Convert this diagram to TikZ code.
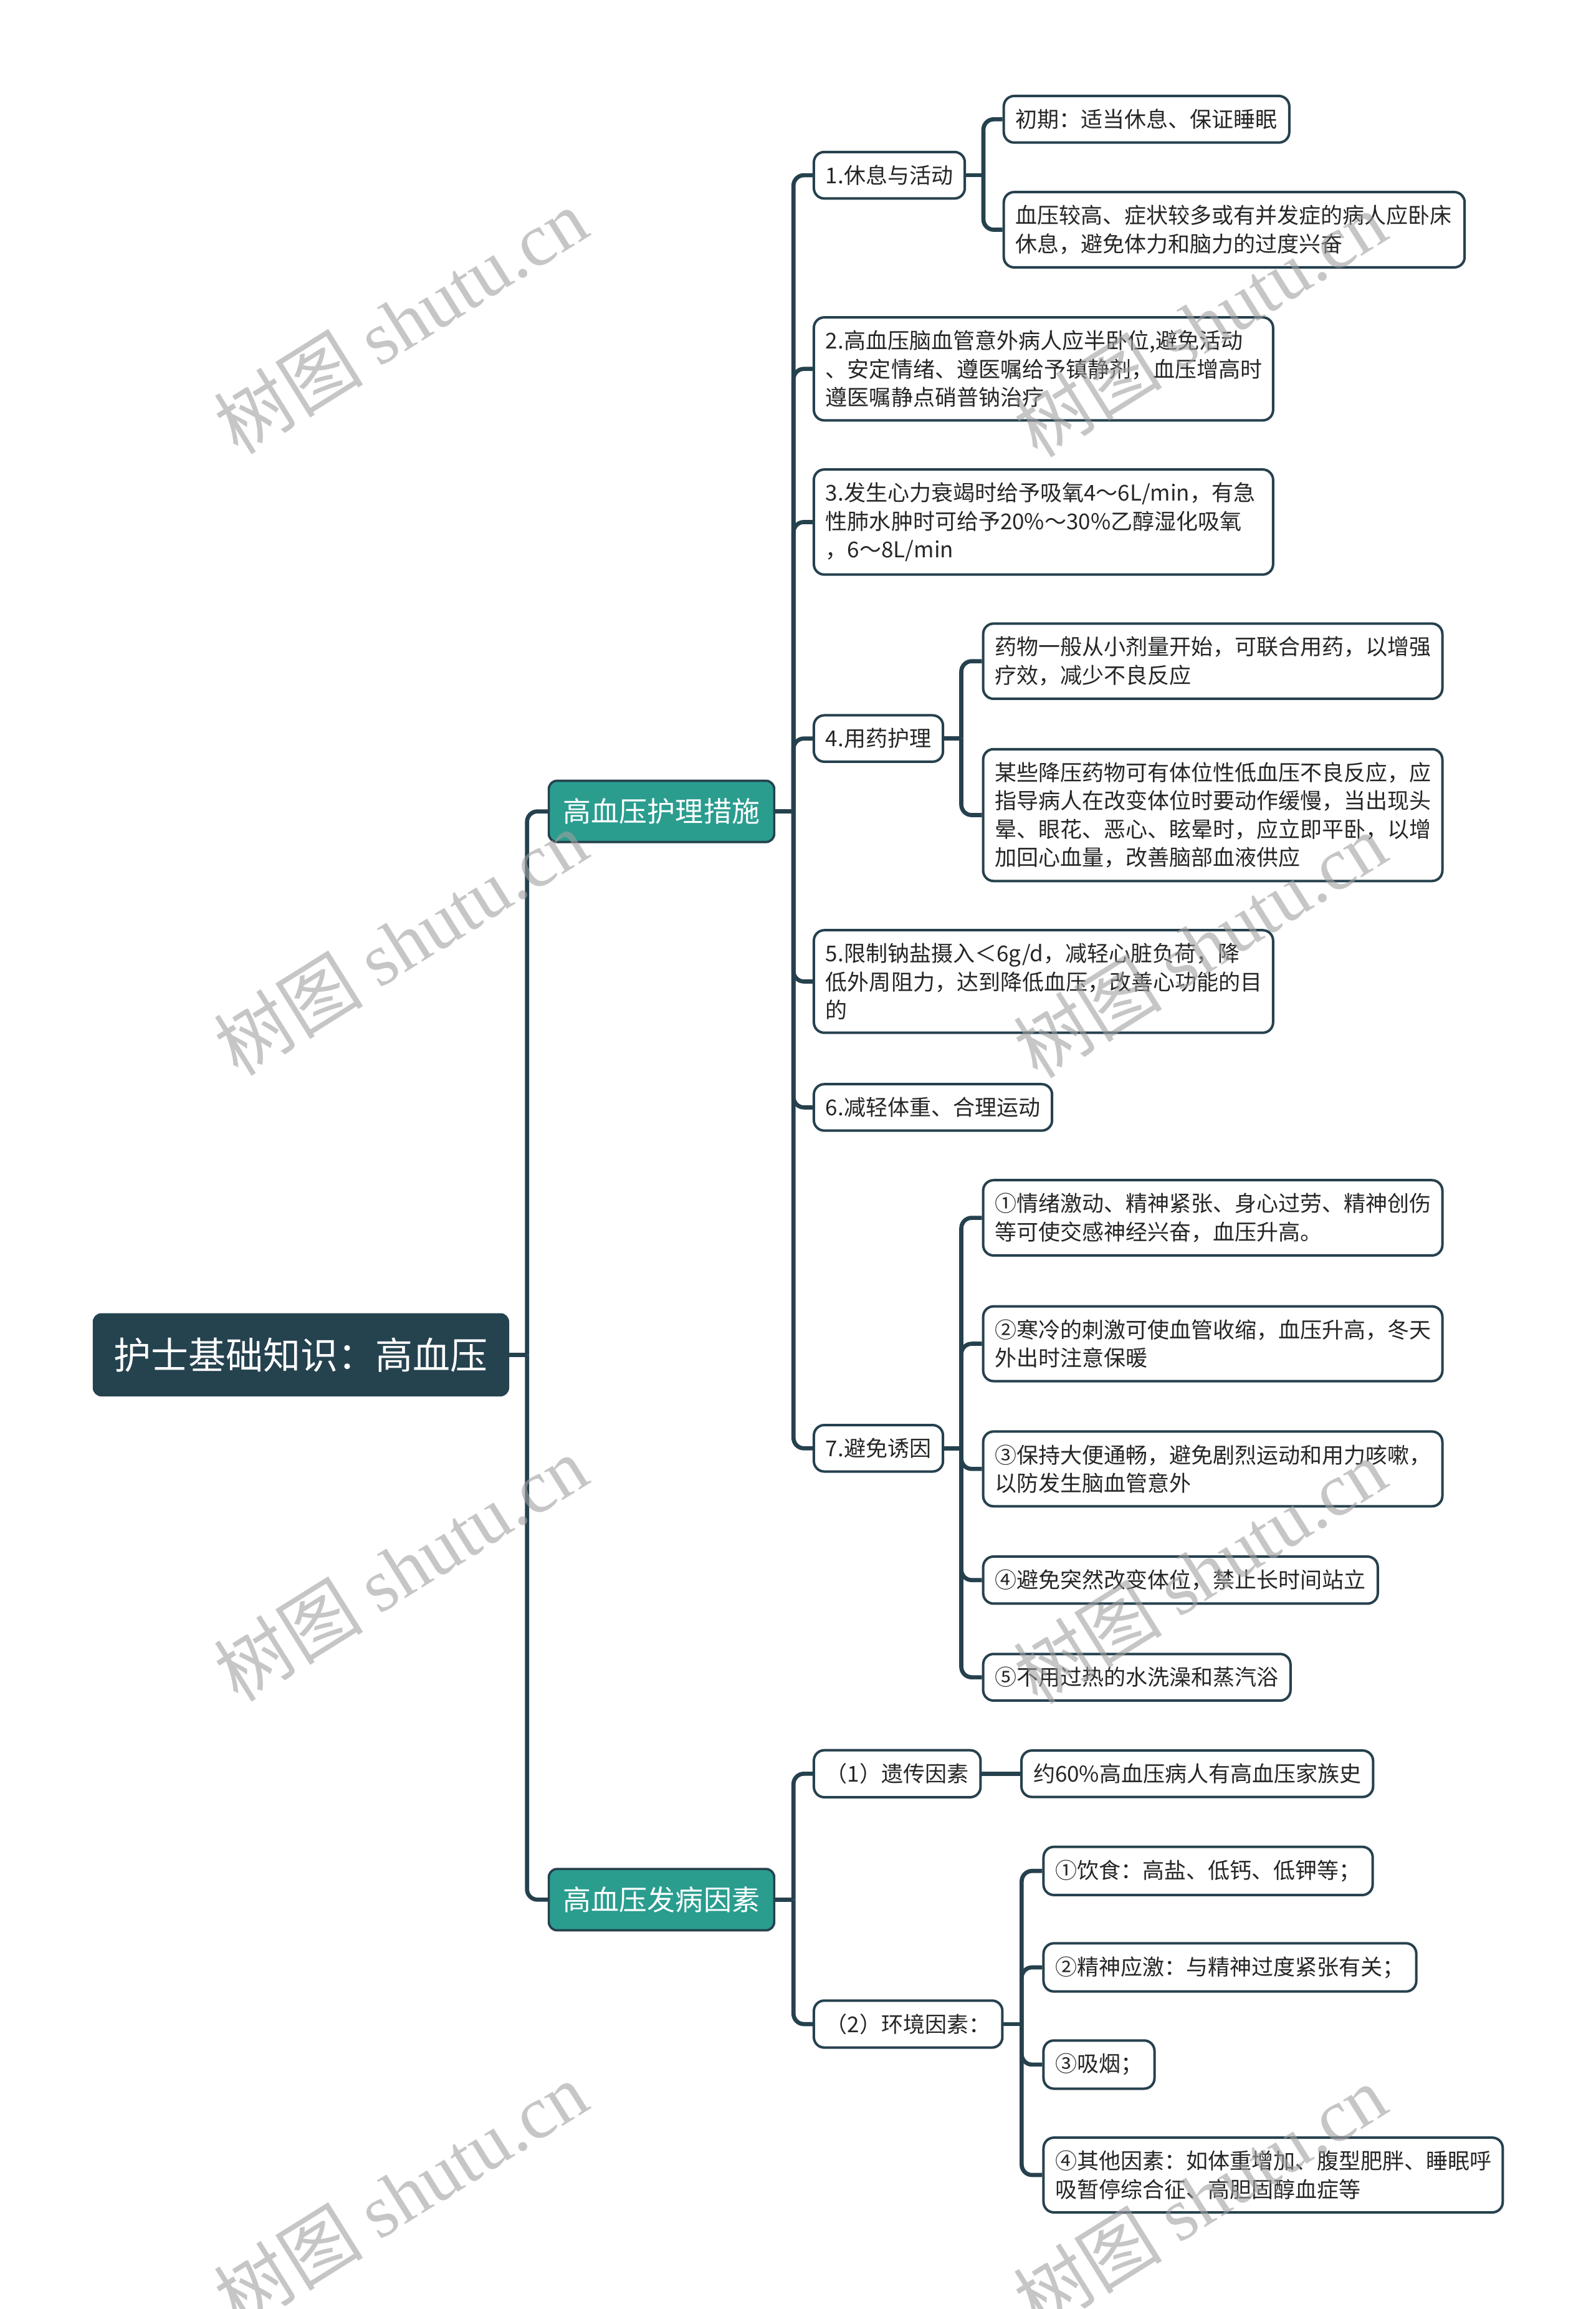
\documentclass[tikz,border=0pt]{standalone}
\usepackage{fontspec}
\setmainfont{Noto Sans CJK SC}
\newfontfamily\wmcjk{Noto Sans CJK SC}
\newfontfamily\wmlat{Liberation Serif}
\definecolor{lineC}{HTML}{26414E}
\definecolor{rootC}{HTML}{25424F}
\definecolor{tealC}{HTML}{2A9D8F}
\definecolor{txtC}{HTML}{262626}
\definecolor{wmC}{HTML}{A0A0A0}
\tikzset{
  conn/.style={draw=lineC, line width=2pt, rounded corners=5pt},
  rootbox/.style={fill=rootC, draw=rootC, rounded corners=4pt, text=white,
    font=\fontsize{18pt}{22pt}\selectfont, inner xsep=10pt, inner ysep=11.5pt, anchor=west},
  lonebox/.style={fill=tealC, draw=lineC, line width=1.1pt, rounded corners=4pt, text=white,
    font=\fontsize{13.5pt}{16pt}\selectfont, inner xsep=7pt, inner ysep=8.5pt, anchor=west},
  tbox/.style={fill=white, draw=lineC, line width=1.2pt, rounded corners=5pt, text=txtC,
    font=\fontsize{10.5pt}{13.6pt}\selectfont, inner xsep=5.7pt, inner ysep=6.3pt,
    anchor=west, align=left},
  wide/.style={text width=209.6pt},
  wmark/.style={rotate=32, text=wmC, opacity=0.6, inner sep=0pt},
}
\newcommand{\wm}{{\wmcjk 树图} {\wmlat shutu.cn}}
\begin{document}
\begin{tikzpicture}[x=0.70848pt, y=-0.70848pt]
\useasboundingbox (0,0) rectangle (1084,1568);
\fill[white] (0,0) rectangle (1084,1568);

% trunk coordinates
\coordinate (t0) at (358,0);
\coordinate (tA) at (539,0);
\coordinate (t1) at (668,0);
\coordinate (t4) at (653,0);
\coordinate (t7) at (653,0);
\coordinate (tB) at (539,0);
\coordinate (tg2) at (694,0);

% nodes
\node[rootbox] (root) at (63,920) {护士基础知识：高血压};
\node[lonebox] (A) at (372,551) {高血压护理措施};
\node[lonebox] (B) at (372,1290) {高血压发病因素};

\node[tbox] (n1) at (552,119) {1.休息与活动};
\node[tbox] (n1a) at (681,81) {初期：适当休息、保证睡眠};
\node[tbox, text width=210.4pt] (n1b) at (681,156) {血压较高、症状较多或有并发症的病人应卧床\\休息，避免体力和脑力的过度兴奋};
\node[tbox, wide] (n2) at (552,250.5) {2.高血压脑血管意外病人应半卧位,避免活动\\、安定情绪、遵医嘱给予镇静剂，血压增高时\\遵医嘱静点硝普钠治疗};
\node[tbox, wide] (n3) at (552,354.5) {3.发生心力衰竭时给予吸氧4～6L/min，有急\\性肺水肿时可给予20\%～30\%乙醇湿化吸氧\\，6～8L/min};
\node[tbox] (n4) at (552,501.5) {4.用药护理};
\node[tbox, wide] (n4a) at (667,449) {药物一般从小剂量开始，可联合用药，以增强\\疗效，减少不良反应};
\node[tbox, wide] (n4b) at (667,553.5) {某些降压药物可有体位性低血压不良反应，应\\指导病人在改变体位时要动作缓慢，当出现头\\晕、眼花、恶心、眩晕时，应立即平卧，以增\\加回心血量，改善脑部血液供应};
\node[tbox, wide] (n5) at (552,666.5) {5.限制钠盐摄入＜6g/d，减轻心脏负荷，降\\低外周阻力，达到降低血压，改善心功能的目\\的};
\node[tbox] (n6) at (552,752) {6.减轻体重、合理运动};
\node[tbox] (n7) at (552,983.5) {7.避免诱因};
\node[tbox, wide] (n7a) at (667,827) {①情绪激动、精神紧张、身心过劳、精神创伤\\等可使交感神经兴奋，血压升高。};
\node[tbox, wide] (n7b) at (667,912.5) {②寒冷的刺激可使血管收缩，血压升高，冬天\\外出时注意保暖};
\node[tbox, wide] (n7c) at (667,997.5) {③保持大便通畅，避免剧烈运动和用力咳嗽，\\以防发生脑血管意外};
\node[tbox] (n7d) at (667,1073) {④避免突然改变体位，禁止长时间站立};
\node[tbox] (n7e) at (667,1139) {⑤不用过热的水洗澡和蒸汽浴};

\node[tbox] (g1) at (552,1204.5) {（1）遗传因素};
\node[tbox] (g1a) at (693,1204.5) {约60\%高血压病人有高血压家族史};
\node[tbox] (g2) at (552,1374.5) {（2）环境因素：};
\node[tbox] (g2a) at (708,1270.5) {①饮食：高盐、低钙、低钾等；};
\node[tbox] (g2b) at (708,1336) {②精神应激：与精神过度紧张有关；};
\node[tbox] (g2c) at (708,1402) {③吸烟；};
\node[tbox, wide] (g2d) at (708,1477) {④其他因素：如体重增加、腹型肥胖、睡眠呼\\吸暂停综合征、高胆固醇血症等};

% connectors
\draw[conn] (root.east) -- (root.east -| t0);
\foreach \c in {A,B} \draw[conn] (root.east -| t0) |- (\c.west);

\draw[conn] (A.east) -- (A.east -| tA);
\foreach \c in {n1,n2,n3,n4,n5,n6,n7} \draw[conn] (A.east -| tA) |- (\c.west);

\draw[conn] (n1.east) -- (n1.east -| t1);
\foreach \c in {n1a,n1b} \draw[conn] (n1.east -| t1) |- (\c.west);

\draw[conn] (n4.east) -- (n4.east -| t4);
\foreach \c in {n4a,n4b} \draw[conn] (n4.east -| t4) |- (\c.west);

\draw[conn] (n7.east) -- (n7.east -| t7);
\foreach \c in {n7a,n7b,n7c,n7d,n7e} \draw[conn] (n7.east -| t7) |- (\c.west);

\draw[conn] (B.east) -- (B.east -| tB);
\foreach \c in {g1,g2} \draw[conn] (B.east -| tB) |- (\c.west);

\draw[conn] (g1.east) -- (g1a.west);

\draw[conn] (g2.east) -- (g2.east -| tg2);
\foreach \c in {g2a,g2b,g2c,g2d} \draw[conn] (g2.east -| tg2) |- (\c.west);

% watermarks
\foreach \yy in {218,640,1065,1490} {
  \node[wmark, font=\fontsize{36pt}{40pt}\selectfont] (wl\yy) at (272,\yy) {\wm};
  \node[wmark, font=\fontsize{36pt}{40pt}\selectfont] (wr\yy) at (815,\yy+2) {\wm};
}
\end{tikzpicture}
\end{document}
